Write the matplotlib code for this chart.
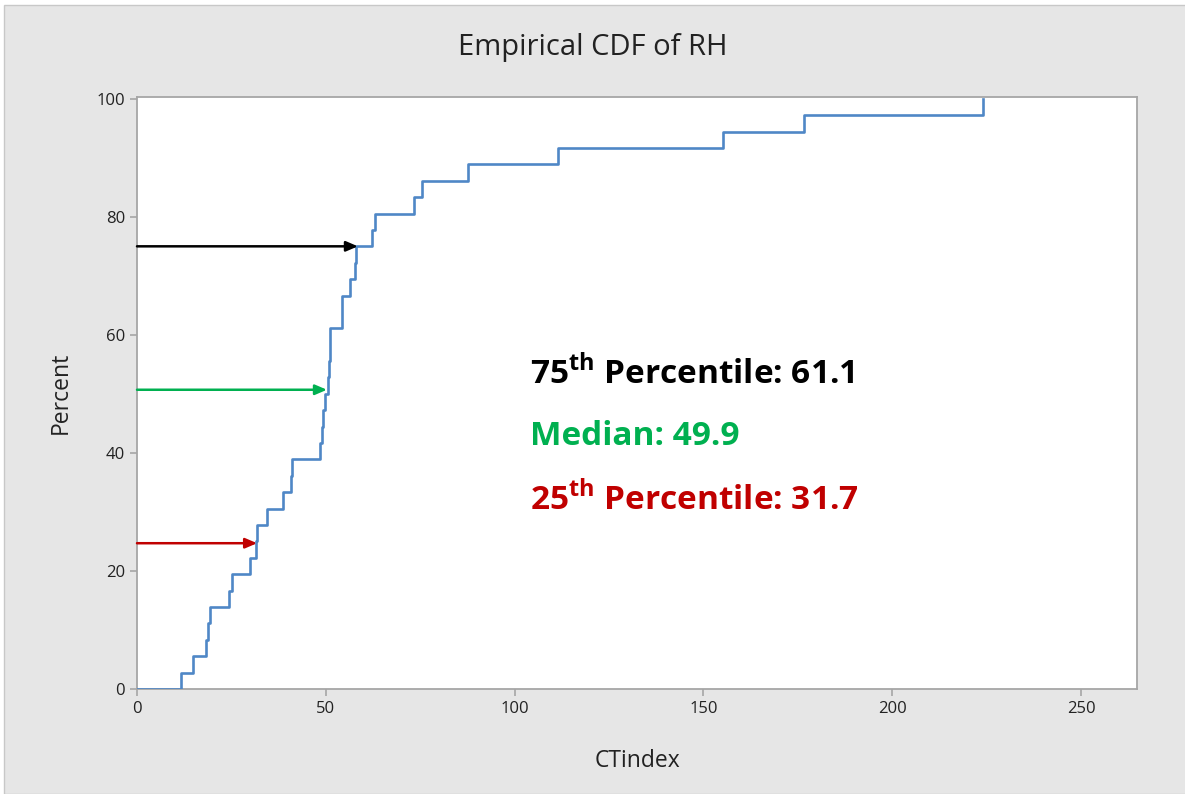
import numpy as np
import matplotlib
matplotlib.use("Agg")
import matplotlib.pyplot as plt
from matplotlib.patches import Rectangle

plt.rcParams['font.family'] = ['Open Sans', 'DejaVu Sans']
plt.rcParams['mathtext.fontset'] = 'custom'
plt.rcParams['mathtext.rm'] = 'Open Sans'
plt.rcParams['mathtext.bf'] = 'Open Sans:bold'

ctindex = [11.7, 14.8, 18.2, 18.8, 19.3, 24.4, 25.2, 30.0, 31.5, 31.7,
           34.3, 38.7, 40.9, 41.1, 48.5, 48.9, 49.3, 49.9, 50.5, 50.9,
           51.0, 51.1, 54.2, 54.3, 56.4, 57.7, 57.9, 62.2, 63.1, 73.4,
           75.4, 87.7, 111.5, 155.2, 176.6, 224.0]

# percentile arrows: height (percent) and where they hit the curve
arrow_pct = [75.0, 50.7, 24.7]
arrow_end = [58.5, 50.3, 31.8]
arrow_colors = ['black', '#00b050', '#c00000']

labels = [r'75$^{\mathbf{th}}$ Percentile: 61.1',
          'Median: 49.9',
          r'25$^{\mathbf{th}}$ Percentile: 31.7']

xticks = [0, 50, 100, 150, 200, 250]
yticks = [0, 20, 40, 60, 80, 100]

fig = plt.figure(figsize=(11.85, 7.94), dpi=100, facecolor='white')
# grey Minitab-style panel behind everything
fig.patches.append(Rectangle((4 / 1185, 0), 1, 1 - 5 / 794, transform=fig.transFigure,
                             facecolor='#e6e6e6', edgecolor='#c8c8c8', lw=1, zorder=-10))

ax = fig.add_axes([137 / 1185, 1 - 689 / 794, 1000 / 1185, 592 / 794])
ax.set_facecolor('white')

# empirical CDF as a step line
x = np.sort(np.array(ctindex))
n = len(x)
xs = np.concatenate([[0], x])
ys = np.concatenate([[0], np.arange(1, n + 1) / n * 100])
ax.step(xs, ys, where='post', color='#4f87c6', lw=1.9, zorder=3)

for y, xe, c in zip(arrow_pct, arrow_end, arrow_colors):
    ax.annotate('', xy=(xe, y), xytext=(0, y),
                arrowprops=dict(arrowstyle='-|>,head_length=0.7,head_width=0.3',
                                color=c, lw=1.8, shrinkA=0, shrinkB=0),
                zorder=4)

for i, (t, c) in enumerate(zip(labels, arrow_colors)):
    ax.text(0.393, 0.532 - i * 0.106, t, transform=ax.transAxes, color=c,
            fontsize=24, fontweight='bold', va='center', ha='left')

ax.set_xlim(0, 264.8)
ax.set_ylim(0, 100.3)
ax.set_xticks(xticks)
ax.set_yticks(yticks)
for s in ax.spines.values():
    s.set_color('#a6a6a6')
    s.set_linewidth(1.3)
ax.tick_params(axis='both', colors='#a6a6a6', length=5, width=1.2,
               labelcolor='#222222', labelsize=12)

ax.set_xlabel('CTindex', fontsize=16.5, color='#222222', labelpad=23)
ax.set_ylabel('Percent', fontsize=16.5, color='#222222', labelpad=17)
fig.text(0.5, 1 - 48 / 794, 'Empirical CDF of RH', ha='center', va='center',
         fontsize=21, color='#222222')

fig.savefig('out.png', dpi=100, facecolor=fig.get_facecolor())
